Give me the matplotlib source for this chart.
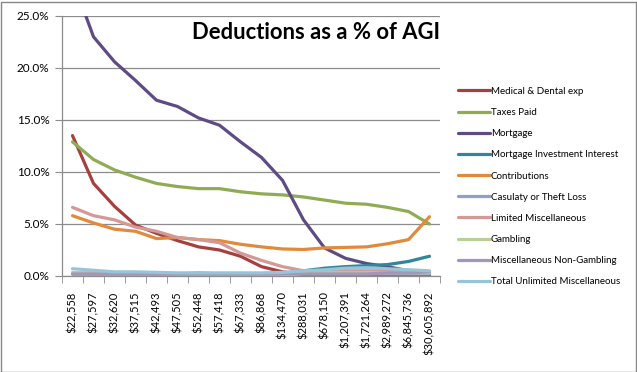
import matplotlib
matplotlib.use("Agg")
import matplotlib.pyplot as plt
import numpy as np
from matplotlib.patches import Rectangle

income = ["$22,558", "$27,597", "$32,620", "$37,515", "$42,493", "$47,505",
          "$52,448", "$57,418", "$67,333", "$86,868", "$134,470", "$288,031",
          "$678,150", "$1,207,391", "$1,721,264", "$2,989,272", "$6,845,736",
          "$30,605,892"]

medical = [13.5, 8.9, 6.7, 4.9, 4.1, 3.4, 2.8, 2.5, 1.9, 0.9, 0.4, 0.15, 0.1, 0.1, 0.1, 0.1, 0.1, 0.1]
taxes = [12.9, 11.2, 10.2, 9.5, 8.9, 8.6, 8.4, 8.4, 8.1, 7.9, 7.8, 7.6, 7.3, 7.0, 6.9, 6.6, 6.2, 5.0]
mortgage = [28.5, 23.0, 20.6, 18.8, 16.9, 16.3, 15.2, 14.5, 12.9, 11.4, 9.2, 5.4, 2.7, 1.7, 1.2, 0.9, 0.5, 0.2]
mort_invest = [0.2, 0.2, 0.2, 0.2, 0.2, 0.2, 0.2, 0.2, 0.2, 0.2, 0.25, 0.5, 0.75, 0.9, 1.0, 1.1, 1.4, 1.9]
contributions = [5.8, 5.1, 4.5, 4.3, 3.6, 3.7, 3.5, 3.4, 3.05, 2.8, 2.6, 2.55, 2.7, 2.75, 2.8, 3.1, 3.5, 5.7]
casualty = [0.3, 0.3, 0.3, 0.3, 0.3, 0.2, 0.3, 0.2, 0.2, 0.2, 0.2, 0.2, 0.2, 0.2, 0.2, 0.2, 0.2, 0.2]
limited_misc = [6.6, 5.8, 5.4, 4.7, 4.3, 3.7, 3.5, 3.2, 2.2, 1.5, 0.9, 0.5, 0.5, 0.5, 0.5, 0.5, 0.5, 0.4]
gambling = [0.3, 0.3, 0.3, 0.3, 0.3, 0.2, 0.2, 0.2, 0.2, 0.2, 0.2, 0.3, 0.3, 0.3, 0.3, 0.3, 0.3, 0.3]
misc_non_gambling = [0.2, 0.2, 0.2, 0.2, 0.2, 0.2, 0.2, 0.2, 0.2, 0.2, 0.2, 0.2, 0.2, 0.2, 0.2, 0.3, 0.3, 0.4]
total_unlimited = [0.7, 0.55, 0.4, 0.4, 0.35, 0.3, 0.3, 0.3, 0.3, 0.3, 0.35, 0.5, 0.6, 0.75, 0.8, 0.7, 0.6, 0.5]

series = [
    ("Medical & Dental exp", medical, "#a5403e"),
    ("Taxes Paid", taxes, "#8fac55"),
    ("Mortgage", mortgage, "#5f4b84"),
    ("Mortgage Investment Interest", mort_invest, "#31869d"),
    ("Contributions", contributions, "#e2893c"),
    ("Casulaty or Theft Loss", casualty, "#8e9fc8"),
    ("Limited Miscellaneous", limited_misc, "#d49896"),
    ("Gambling", gambling, "#b9cf98"),
    ("Miscellaneous Non-Gambling", misc_non_gambling, "#a496bb"),
    ("Total Unlimited Miscellaneous", total_unlimited, "#97c4d6"),
]

plt.rcParams["font.family"] = ["Lato", "DejaVu Sans"]

fig = plt.figure(figsize=(6.37, 3.72), dpi=100)
ax = fig.add_axes([62 / 637, 1 - 276 / 372, (440 - 62) / 637, (276 - 16) / 372])

x = np.arange(len(income))
for name, vals, col in series:
    ax.plot(x, vals, color=col, lw=2.3, label=name, solid_joinstyle="round",
            solid_capstyle="round")

ax.set_xlim(-0.5, len(income) - 0.5)
ax.set_ylim(0, 25)
ax.set_yticks(np.arange(0, 26, 5))
ax.set_yticklabels([f"{v:.1f}%" for v in np.arange(0, 26, 5)], fontsize=8.5)
ax.yaxis.grid(True, color="#8c8c8c", lw=0.9)
ax.set_axisbelow(True)

ax.set_xticks(x)
ax.set_xticklabels(income, rotation=90, fontsize=8)
ax.set_xticks(np.arange(-0.5, len(income)), minor=True)
ax.tick_params(axis="x", which="major", length=0, pad=11)
ax.tick_params(axis="x", which="minor", length=5, color="#8c8c8c", direction="out")
ax.tick_params(axis="y", length=5, color="#8c8c8c", direction="out", pad=4)

for s in ["top", "right"]:
    ax.spines[s].set_visible(False)
for s in ["left", "bottom"]:
    ax.spines[s].set_color("#8c8c8c")
    ax.spines[s].set_linewidth(0.9)

ax.text(1.0, 0.938, "Deductions as a % of AGI", transform=ax.transAxes,
        ha="right", va="center", fontsize=15.8, fontweight="bold")

fig.legend(loc="upper left", bbox_to_anchor=(454 / 637, 1 - 83 / 372),
           frameon=False, fontsize=7, handlelength=3.3, handletextpad=0.1,
           labelspacing=1.25, borderaxespad=0)

fig.patches.append(Rectangle((0.5 / 637, 0.5 / 372), 635 / 637, 370 / 372,
                             transform=fig.transFigure, fill=False,
                             edgecolor="#868686", lw=1))

fig.savefig("out.png", dpi=100)
